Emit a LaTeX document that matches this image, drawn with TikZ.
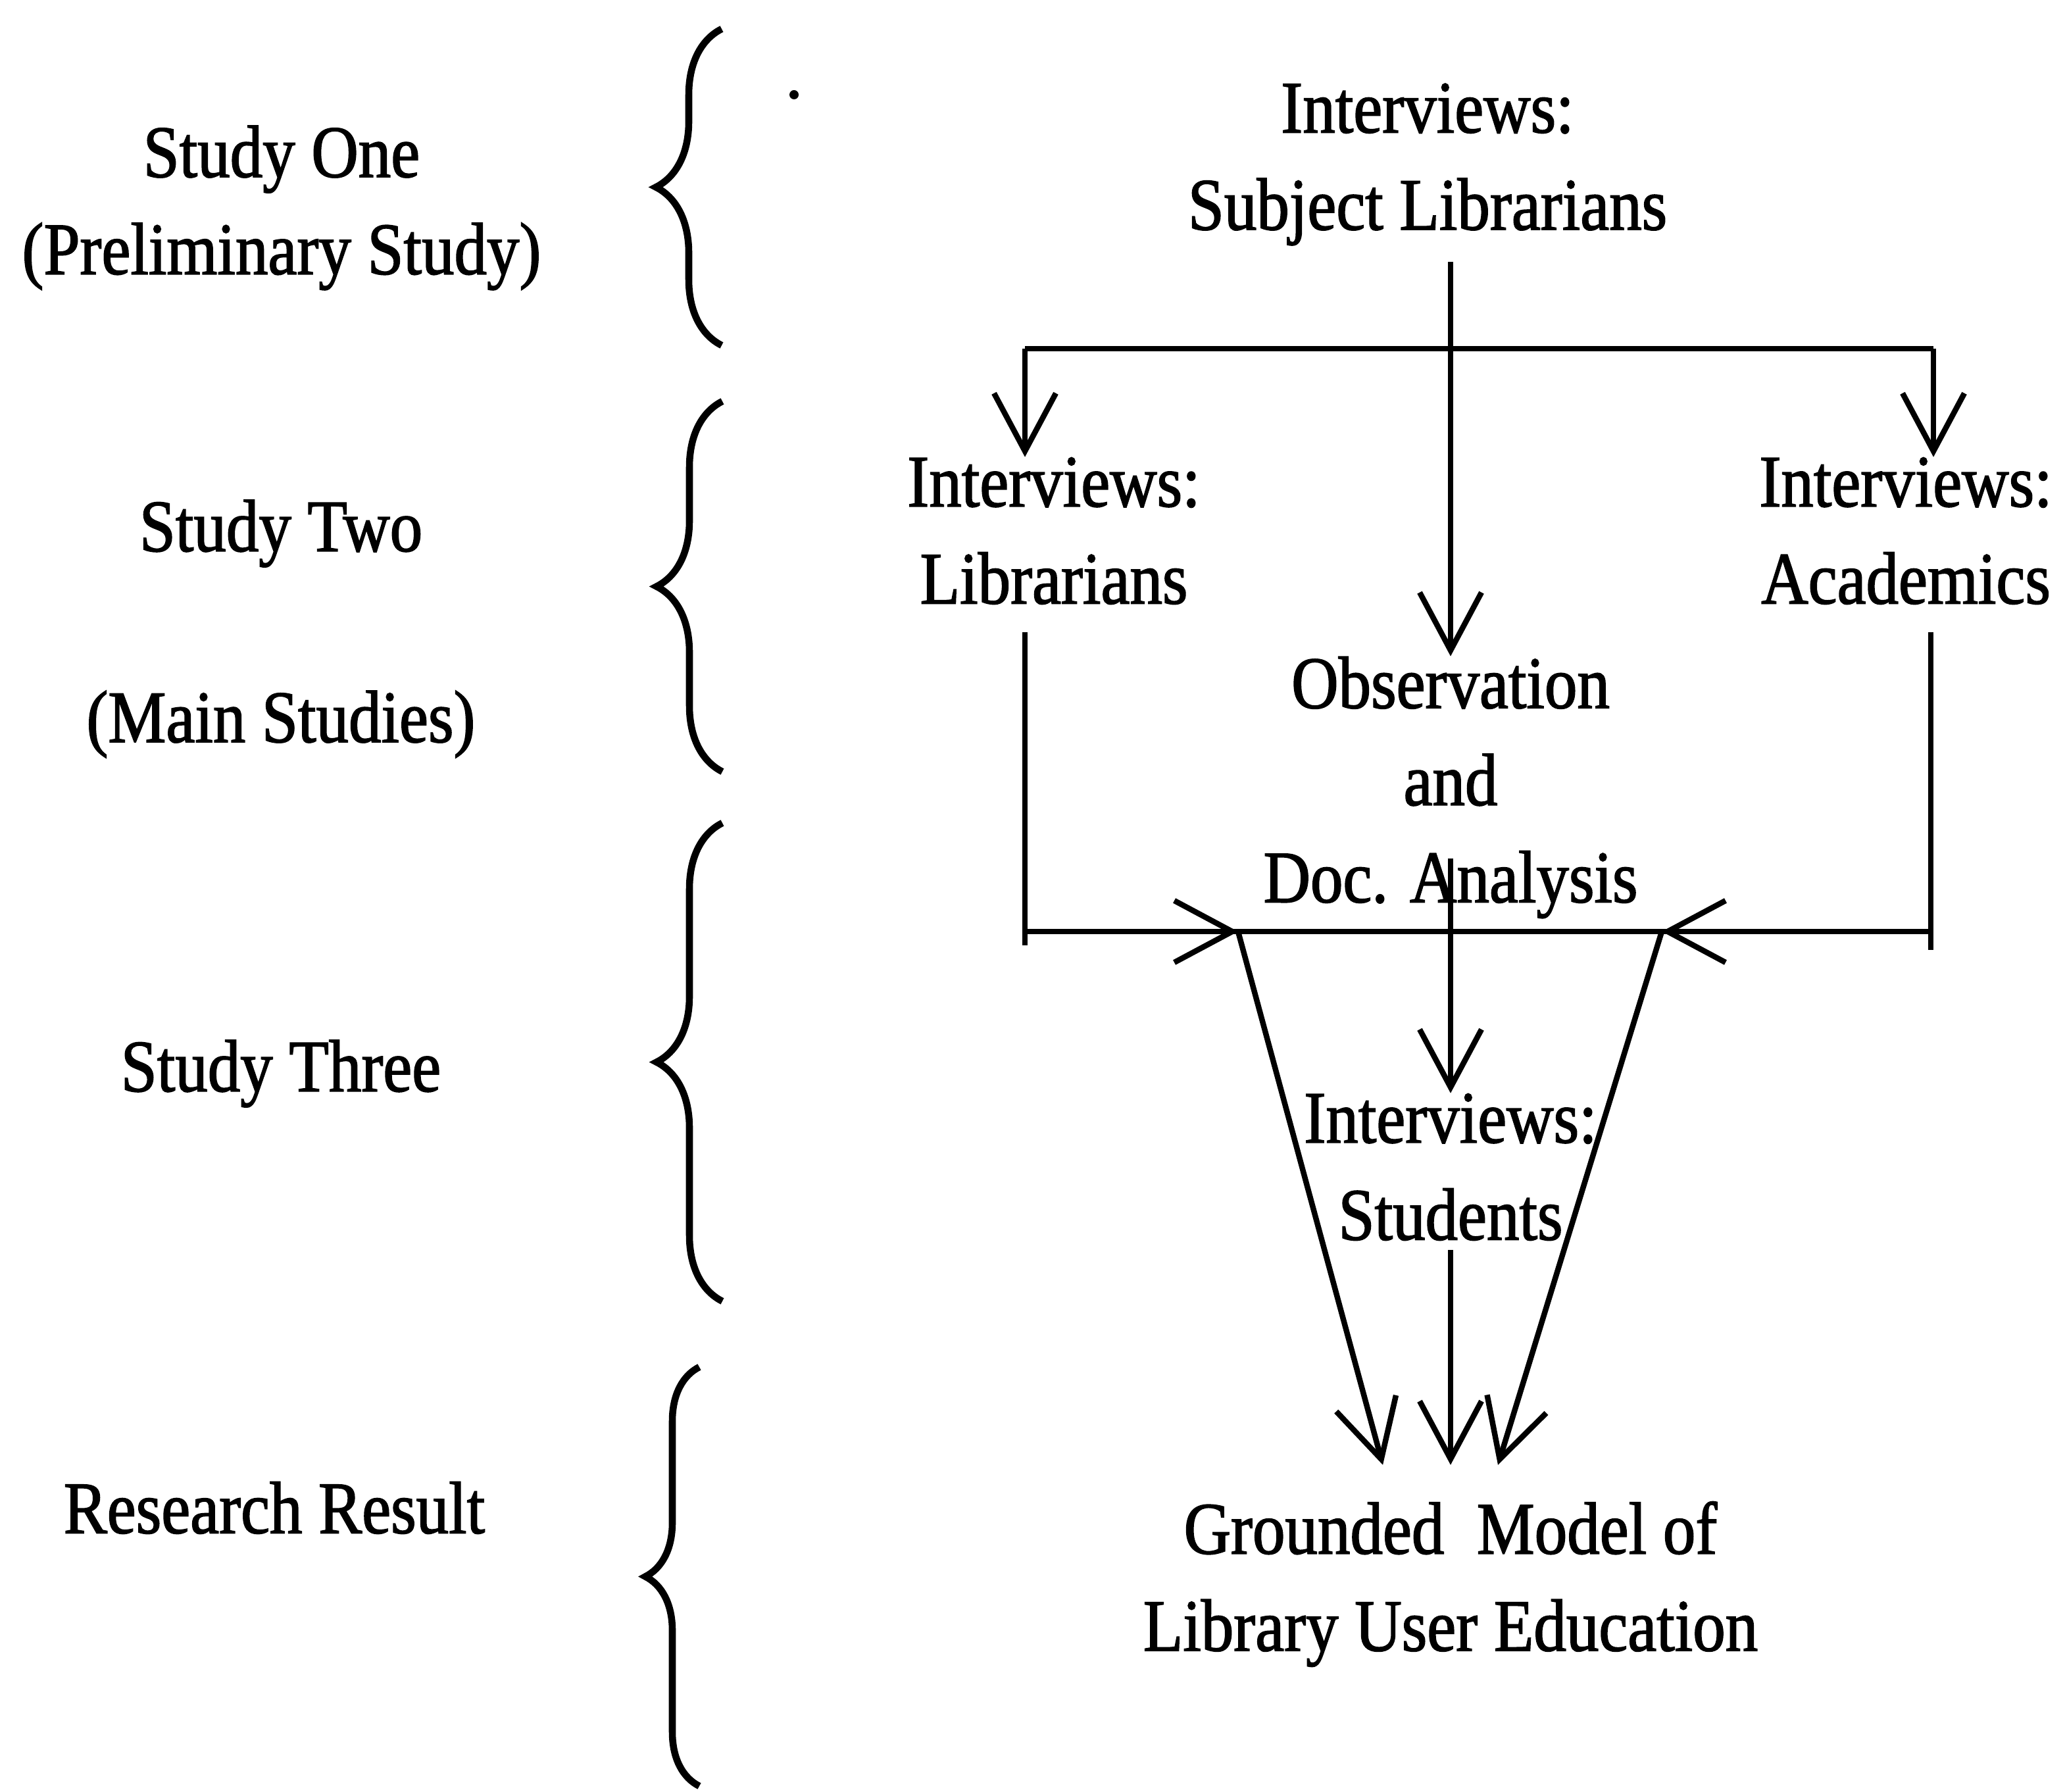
\documentclass[tikz,border=0pt]{standalone}
\usepackage{fontspec}
\setmainfont{Liberation Serif}[FakeStretch=0.88, FakeBold=1.5]
\usetikzlibrary{arrows.meta, decorations.pathreplacing}
\tikzset{>={Straight Barb[length=8.8mm, width=9.4mm]}}
\tikzset{
  lbl/.style={font=\fontsize{32}{42}\selectfont, align=center, inner sep=0pt},
  brc/.style={decorate, decoration={brace, amplitude=1cm}, line width=3pt},
  conn/.style={line width=2.4pt},
}

\begin{document}
\begin{tikzpicture}[x=1cm, y=-1cm]
\useasboundingbox (0,0) rectangle (31.39,27.23);
% left column: stages
\node[lbl] (one) at (4.28,3.16) {Study One\\(Preliminary Study)};
\node[lbl] (two) at (4.27,8.11) {Study Two};
\node[lbl] (main) at (4.27,11.01) {(Main Studies)};
\node[lbl] (three) at (4.27,16.32) {Study Three};
\node[lbl] (result) at (4.17,22.92) {Research Result};
% braces
\draw[brc] (10.97,5.25) -- (10.97,0.44);
\draw[brc] (10.98,11.73) -- (10.98,6.10);
\draw[brc] (10.98,19.78) -- (10.98,12.51);
\draw[brc, decoration={amplitude=0.82cm}] (10.63,27.15) -- (10.63,20.78);
\fill (12.07,1.44) circle (0.07);
% right column: studies
\node[lbl] (subj) at (21.70,2.50) {Interviews:\\Subject Librarians};
\node[lbl] (libr) at (16.02,8.07) {Interviews:\\Librarians};
\node[lbl] (acad) at (28.97,8.07) {Interviews:\\Academics};
\node[lbl] (obs) at (22.05,11.97) {Observation\\and\\Doc. Analysis};
\node[lbl] (stud) at (22.05,17.74) {Interviews:\\Students};
\node[lbl, inner ysep=0.55cm] (model) at (22.05,24.08) {Grounded\ \ Model of\\Library User Education};
% junctions
\coordinate (tl) at (15.58,5.30);
\coordinate (tr) at (29.39,5.30);
\coordinate (bl) at (15.58,14.16);
\coordinate (br) at (29.35,14.16);
\coordinate (ml) at (18.82,14.16);
\coordinate (mr) at (25.26,14.16);
% connectors
\draw[conn,->] ([yshift=-7pt]obs.north |- subj.south) -- (obs.north);
\draw[conn] (tl) -- (tr);
\draw[conn,->] (tl) -- (tl |- libr.north);
\draw[conn,->] (tr) -- (tr |- acad.north);
\draw[conn] ([yshift=-12pt]bl |- libr.south) -- ([yshift=-6pt]bl);
\draw[conn] ([yshift=-12pt]br |- acad.south) -- ([yshift=-8pt]br);
\draw[conn] (bl) -- (br);
\draw[conn,->] (bl) -- (ml);
\draw[conn,->] (br) -- (mr);
\draw[conn,->] ([yshift=26pt]obs.south) -- (stud.north);
\draw[conn,->] ([yshift=-4pt]stud.south) -- (model.north);
\draw[conn,->] (ml) -- ([xshift=-1.03cm]model.north);
\draw[conn,->] (mr) -- ([xshift=0.72cm]model.north);
\end{tikzpicture}
\end{document}
